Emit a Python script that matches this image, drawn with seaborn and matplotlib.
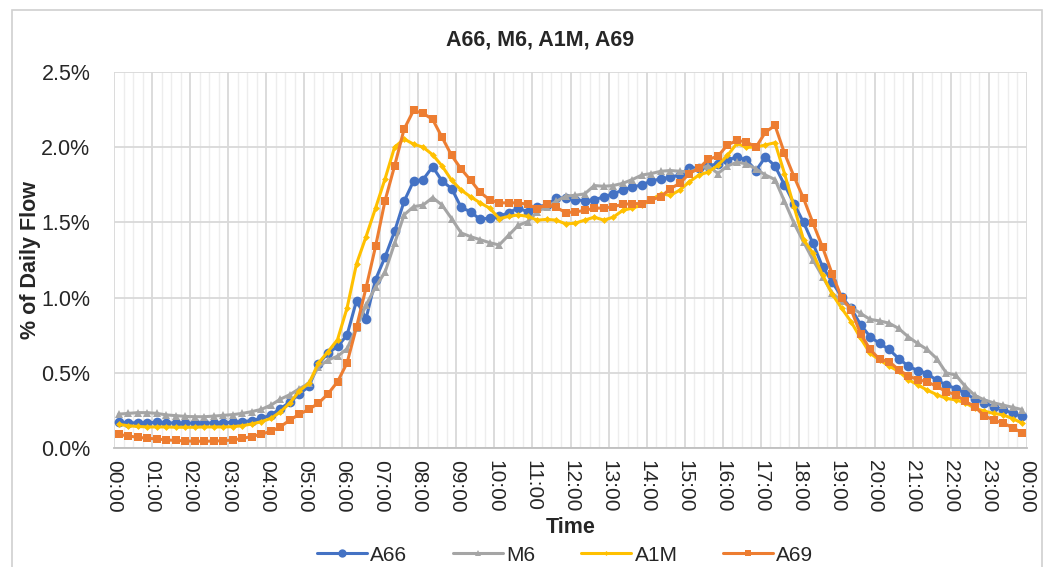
import numpy as np
import pandas as pd
import seaborn as sns
import matplotlib.pyplot as plt
from matplotlib import font_manager
from matplotlib.patches import Rectangle
from matplotlib.lines import Line2D
from matplotlib.ticker import MultipleLocator, FuncFormatter

# quarter-hour slots 00:00 .. 23:45
times = [f"{h:02d}:{m:02d}" for h in range(24) for m in (0, 15, 30, 45)]
hour_labels = [f"{h % 24:02d}:00" for h in range(25)]

a66 = [0.170, 0.168, 0.167, 0.168, 0.170, 0.168, 0.166, 0.165, 0.166, 0.166, 0.167, 0.168,
       0.170, 0.175, 0.182, 0.197, 0.219, 0.262, 0.305, 0.360, 0.410, 0.560, 0.630, 0.675,
       0.750, 0.980, 0.860, 1.120, 1.270, 1.440, 1.640, 1.775, 1.785, 1.870, 1.775, 1.725,
       1.600, 1.570, 1.520, 1.530, 1.540, 1.565, 1.595, 1.570, 1.605, 1.615, 1.660, 1.665,
       1.650, 1.645, 1.650, 1.670, 1.690, 1.715, 1.735, 1.750, 1.775, 1.790, 1.800, 1.815,
       1.865, 1.860, 1.875, 1.890, 1.915, 1.935, 1.915, 1.845, 1.935, 1.875, 1.750, 1.625,
       1.500, 1.360, 1.205, 1.105, 1.005, 0.930, 0.820, 0.740, 0.695, 0.655, 0.595, 0.545,
       0.515, 0.495, 0.450, 0.420, 0.395, 0.365, 0.325, 0.300, 0.275, 0.255, 0.230, 0.210]

m6 = [0.225, 0.230, 0.235, 0.235, 0.230, 0.220, 0.215, 0.210, 0.208, 0.208, 0.212, 0.217,
      0.222, 0.230, 0.242, 0.257, 0.285, 0.325, 0.355, 0.395, 0.430, 0.540, 0.585, 0.610,
      0.660, 0.800, 0.950, 1.070, 1.170, 1.360, 1.550, 1.605, 1.615, 1.665, 1.615, 1.525,
      1.430, 1.405, 1.385, 1.365, 1.350, 1.415, 1.480, 1.505, 1.570, 1.605, 1.640, 1.675,
      1.680, 1.690, 1.745, 1.740, 1.745, 1.760, 1.785, 1.815, 1.825, 1.840, 1.845, 1.840,
      1.835, 1.860, 1.875, 1.825, 1.875, 1.900, 1.890, 1.855, 1.815, 1.785, 1.640, 1.495,
      1.370, 1.250, 1.140, 1.030, 0.975, 0.935, 0.895, 0.855, 0.845, 0.830, 0.795, 0.740,
      0.695, 0.655, 0.595, 0.500, 0.485, 0.410, 0.350, 0.320, 0.300, 0.285, 0.270, 0.255]

a1m = [0.157, 0.148, 0.143, 0.140, 0.140, 0.140, 0.138, 0.138, 0.138, 0.140, 0.140, 0.140,
       0.142, 0.148, 0.160, 0.175, 0.197, 0.240, 0.300, 0.380, 0.430, 0.565, 0.640, 0.720,
       0.930, 1.225, 1.405, 1.595, 1.790, 2.000, 2.055, 2.020, 2.000, 1.950, 1.875, 1.780,
       1.715, 1.670, 1.630, 1.595, 1.525, 1.540, 1.550, 1.540, 1.515, 1.520, 1.515, 1.490,
       1.495, 1.515, 1.535, 1.515, 1.535, 1.580, 1.595, 1.615, 1.650, 1.690, 1.680, 1.715,
       1.770, 1.815, 1.835, 1.880, 1.945, 2.025, 2.000, 2.000, 2.015, 2.030, 1.825, 1.605,
       1.385, 1.295, 1.150, 1.025, 0.930, 0.840, 0.730, 0.630, 0.585, 0.545, 0.510, 0.455,
       0.420, 0.385, 0.355, 0.330, 0.320, 0.300, 0.265, 0.245, 0.230, 0.220, 0.195, 0.165]

a69 = [0.090, 0.080, 0.071, 0.065, 0.060, 0.054, 0.050, 0.047, 0.045, 0.045, 0.046, 0.049,
       0.053, 0.064, 0.076, 0.093, 0.110, 0.142, 0.186, 0.225, 0.257, 0.298, 0.360, 0.440,
       0.565, 0.805, 1.065, 1.340, 1.645, 1.875, 2.120, 2.245, 2.225, 2.185, 2.065, 1.945,
       1.855, 1.780, 1.700, 1.650, 1.630, 1.630, 1.630, 1.620, 1.590, 1.620, 1.600, 1.565,
       1.570, 1.580, 1.595, 1.595, 1.605, 1.620, 1.625, 1.625, 1.650, 1.670, 1.725, 1.760,
       1.825, 1.860, 1.920, 1.940, 2.015, 2.045, 2.035, 2.000, 2.100, 2.145, 1.960, 1.805,
       1.660, 1.495, 1.335, 1.160, 1.000, 0.920, 0.760, 0.655, 0.590, 0.575, 0.520, 0.480,
       0.455, 0.440, 0.410, 0.375, 0.355, 0.310, 0.275, 0.215, 0.185, 0.165, 0.135, 0.100]

series = ["A66", "M6", "A1M", "A69"]
colors = {"A66": "#4472C4", "M6": "#A5A5A5", "A1M": "#FFC000", "A69": "#ED7D31"}
markers = {"A66": "o", "M6": "^", "A1M": "D", "A69": "s"}
msizes = {"A66": 7, "M6": 6, "A1M": 3.5, "A69": 5.5}

frame = pd.DataFrame({"Time": times, "A66": a66, "M6": m6, "A1M": a1m, "A69": a69})
# slot centre in quarter-hour units (Excel category axis, between tick marks)
frame["slot"] = np.arange(len(times)) + 0.5
long_frame = frame.melt(id_vars=["Time", "slot"], value_vars=series,
                        var_name="Road", value_name="share")

names = [f.name for f in font_manager.fontManager.ttflist]
narrow = "Liberation Sans Narrow" if "Liberation Sans Narrow" in names else "Liberation Sans"

sns.set_theme(style="white")
plt.rcParams["font.family"] = ["Liberation Sans", "DejaVu Sans"]

fig = plt.figure(figsize=(10.47, 5.67), dpi=100)
ax = fig.add_axes([0.1089, 0.2099, 0.8720, 0.6631])

for road in series:
    sub = long_frame[long_frame["Road"] == road]
    sns.lineplot(data=sub, x="slot", y="share", ax=ax, color=colors[road],
                 marker=markers[road], markersize=msizes[road], markeredgewidth=0,
                 linewidth=2.2, label=road, legend=False, zorder=3)

ax.set_xlim(0, 96)
ax.set_ylim(0, 2.5)
ax.xaxis.set_major_locator(MultipleLocator(4))
ax.xaxis.set_minor_locator(MultipleLocator(1))
ax.yaxis.set_major_locator(MultipleLocator(0.5))
ax.set_xticks(np.arange(0, 97, 4))
ax.set_xticklabels(hour_labels, rotation=270, fontsize=15)
ax.yaxis.set_major_formatter(FuncFormatter(lambda v, p: f"{v:.1f}%"))
ax.tick_params(axis="y", labelsize=15.5, length=0, pad=17)
ax.tick_params(axis="x", which="both", length=0, pad=9)

ax.grid(which="major", axis="both", color="#D9D9D9", linewidth=1.3, zorder=0)
ax.grid(which="minor", axis="x", color="#EDEDED", linewidth=1.0, zorder=0)
ax.set_axisbelow(True)
for side in ["top", "right", "left"]:
    ax.spines[side].set_visible(False)
ax.spines["bottom"].set_color("#BFBFBF")
ax.spines["bottom"].set_linewidth(1.3)

ax.set_xlabel("Time", fontsize=15.5, fontweight="bold", family=narrow, labelpad=3)
ax.set_ylabel("% of Daily Flow", fontsize=15.5, fontweight="bold", family=narrow, labelpad=0)
fig.text(0.516, 0.929, "A66, M6, A1M, A69", ha="center", va="center",
         fontsize=15.5, fontweight="bold", family=narrow)

handles = [Line2D([0], [0], color=colors[r], marker=markers[r], markersize=msizes[r] - 1,
                  markeredgewidth=0, linewidth=2.2) for r in series]
fig.legend(handles, series, loc="center", bbox_to_anchor=(0.54, 0.021), ncol=4,
           frameon=False, fontsize=15, handlelength=2.4, columnspacing=2.2, handletextpad=0.15)

fig.patches.append(Rectangle((12 / 1047, -0.01), 1030 / 1047, 1 - 10 / 567 + 0.01,
                             transform=fig.transFigure, fill=False,
                             edgecolor="#D0D0D0", linewidth=1.2))

fig.savefig("out.png", dpi=100)
